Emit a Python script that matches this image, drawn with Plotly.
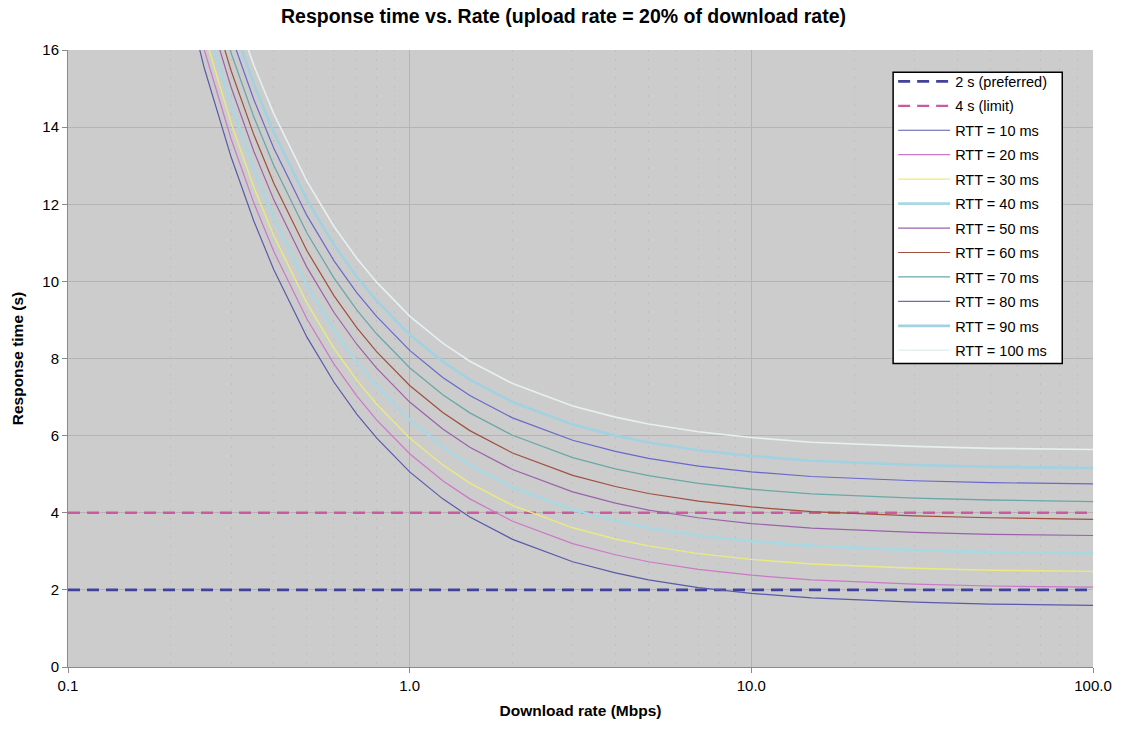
import plotly.graph_objects as go

# ---- data ----
rate_mbps = [0.2, 0.25, 0.3, 0.35, 0.4, 0.5, 0.6, 0.7, 0.8, 1.0, 1.25, 1.5, 2, 3, 4, 5, 7, 10, 15, 20, 30, 50, 70, 100]

rtt_labels = ["RTT = 10 ms", "RTT = 20 ms", "RTT = 30 ms", "RTT = 40 ms", "RTT = 50 ms",
              "RTT = 60 ms", "RTT = 70 ms", "RTT = 80 ms", "RTT = 90 ms", "RTT = 100 ms"]

rtt10 = [19.06, 15.56, 13.23, 11.56, 10.31, 8.56, 7.39, 6.56, 5.94, 5.06, 4.36, 3.89, 3.31, 2.73, 2.44, 2.26, 2.06, 1.91, 1.79, 1.74, 1.68, 1.63, 1.61, 1.60]
rtt20 = [19.53, 16.03, 13.70, 12.03, 10.78, 9.03, 7.86, 7.03, 6.41, 5.53, 4.83, 4.36, 3.78, 3.20, 2.91, 2.73, 2.53, 2.38, 2.26, 2.21, 2.15, 2.10, 2.08, 2.07]
rtt30 = [19.94, 16.44, 14.11, 12.44, 11.19, 9.44, 8.27, 7.44, 6.82, 5.94, 5.24, 4.77, 4.19, 3.61, 3.32, 3.14, 2.94, 2.79, 2.67, 2.62, 2.56, 2.51, 2.49, 2.48]
rtt40 = [20.41, 16.91, 14.58, 12.91, 11.66, 9.91, 8.74, 7.91, 7.29, 6.41, 5.71, 5.24, 4.66, 4.08, 3.79, 3.61, 3.41, 3.26, 3.14, 3.09, 3.03, 2.98, 2.96, 2.95]
rtt50 = [20.87, 17.37, 15.04, 13.37, 12.12, 10.37, 9.20, 8.37, 7.75, 6.87, 6.17, 5.70, 5.12, 4.54, 4.25, 4.07, 3.87, 3.72, 3.60, 3.55, 3.49, 3.44, 3.42, 3.41]
rtt60 = [21.30, 17.80, 15.47, 13.80, 12.55, 10.80, 9.63, 8.80, 8.18, 7.30, 6.60, 6.13, 5.55, 4.97, 4.68, 4.50, 4.30, 4.15, 4.03, 3.98, 3.92, 3.87, 3.85, 3.83]
rtt70 = [21.76, 18.26, 15.93, 14.26, 13.01, 11.26, 10.09, 9.26, 8.64, 7.76, 7.06, 6.59, 6.01, 5.43, 5.14, 4.96, 4.76, 4.61, 4.49, 4.44, 4.38, 4.33, 4.31, 4.29]
rtt80 = [22.21, 18.71, 16.38, 14.71, 13.46, 11.71, 10.54, 9.71, 9.09, 8.21, 7.51, 7.04, 6.46, 5.88, 5.59, 5.41, 5.21, 5.06, 4.94, 4.89, 4.83, 4.78, 4.76, 4.75]
rtt90 = [22.62, 19.12, 16.79, 15.12, 13.87, 12.12, 10.95, 10.12, 9.50, 8.62, 7.92, 7.45, 6.87, 6.29, 6.00, 5.82, 5.62, 5.47, 5.35, 5.30, 5.24, 5.19, 5.17, 5.16]
rtt100 = [23.10, 19.60, 17.27, 15.60, 14.35, 12.60, 11.43, 10.60, 9.98, 9.10, 8.40, 7.93, 7.35, 6.77, 6.48, 6.30, 6.10, 5.95, 5.83, 5.78, 5.72, 5.67, 5.65, 5.64]

limit_x = [0.1, 100]
preferred_s = [2, 2]
limit_s = [4, 4]

x_tick_vals = [0.1, 1, 10, 100]
x_tick_text = ["0.1", "1.0", "10.0", "100.0"]
y_tick_vals = [0, 2, 4, 6, 8, 10, 12, 14, 16]

series = [rtt10, rtt20, rtt30, rtt40, rtt50, rtt60, rtt70, rtt80, rtt90, rtt100]
colors = ["#5a5aaa", "#cc78c8", "#eaea80", "#a9d8e2", "#9a62aa",
          "#a0503e", "#6aa8a8", "#6868cc", "#a2d2e2", "#e6f0f0"]
widths = [1.2, 1.2, 1.4, 2.6, 1.2, 1.2, 1.3, 1.2, 2.6, 1.6]

fig = go.Figure()

fig.add_trace(go.Scatter(x=limit_x, y=preferred_s, mode="lines", name="2 s (preferred)",
                         line=dict(color="#42429a", width=2.8, dash="12px,7px"),
                         legendgroup="a"))
fig.add_trace(go.Scatter(x=limit_x, y=limit_s, mode="lines", name="4 s (limit)",
                         line=dict(color="#cc5a9e", width=2.3, dash="12px,7px"),
                         legendgroup="b"))
for i, (lab, ys) in enumerate(zip(rtt_labels, series)):
    fig.add_trace(go.Scatter(x=rate_mbps, y=ys, mode="lines", name=lab,
                             line=dict(color=colors[i], width=widths[i]),
                             legendgroup="g%d" % i))

# legend frame (drawn as a box in paper coordinates)
fig.add_shape(type="rect", xref="paper", yref="paper",
              x0=0.805, x1=0.970, y0=0.492, y1=0.964,
              fillcolor="white", line=dict(color="black", width=1.5), layer="above")

fig.update_layout(
    width=1127, height=729,
    margin=dict(l=68, r=34, t=50, b=62),
    paper_bgcolor="white",
    plot_bgcolor="#cccccc",
    font=dict(family="Liberation Sans, Arial, sans-serif", size=15, color="black"),
    title=dict(text="<b>Response time vs. Rate (upload rate = 20% of download rate)</b>",
               x=0.5, xanchor="center", y=0.978, yanchor="middle",
               font=dict(size=19.5)),
    showlegend=True,
    legend=dict(x=0.805, xanchor="left", y=0.975, yanchor="top",
                bgcolor="rgba(0,0,0,0)", borderwidth=0,
                font=dict(size=14.5), traceorder="grouped", tracegroupgap=2.6,
                itemwidth=52),
)

fig.update_xaxes(
    type="log", range=[-1, 2], automargin=False,
    tickvals=x_tick_vals, ticktext=x_tick_text,
    showgrid=True, gridcolor="#b4b4b4", gridwidth=1,
    showline=True, linecolor="#8a8a8a", linewidth=1,
    ticks="outside", ticklen=5, tickcolor="#8a8a8a",
    minor=dict(dtick="D1", showgrid=True, gridcolor="#c0c0c0", griddash="2px,7px", ticks=""),
    zeroline=False,
    title=dict(text="<b>Download rate (Mbps)</b>", font=dict(size=15.5), standoff=12),
    tickfont=dict(size=15),
)
fig.update_yaxes(
    range=[0, 16], tickvals=y_tick_vals, automargin=False,
    showgrid=True, gridcolor="#b4b4b4", gridwidth=1,
    showline=True, linecolor="#8a8a8a", linewidth=1,
    ticks="outside", ticklen=5, tickcolor="#8a8a8a",
    zeroline=False,
    title=dict(text="<b>Response time (s)</b>", font=dict(size=15.5), standoff=14),
    tickfont=dict(size=15),
)

fig.write_html("out.html", config={"displayModeBar": False},
               post_script="document.body.style.margin='0px';")
